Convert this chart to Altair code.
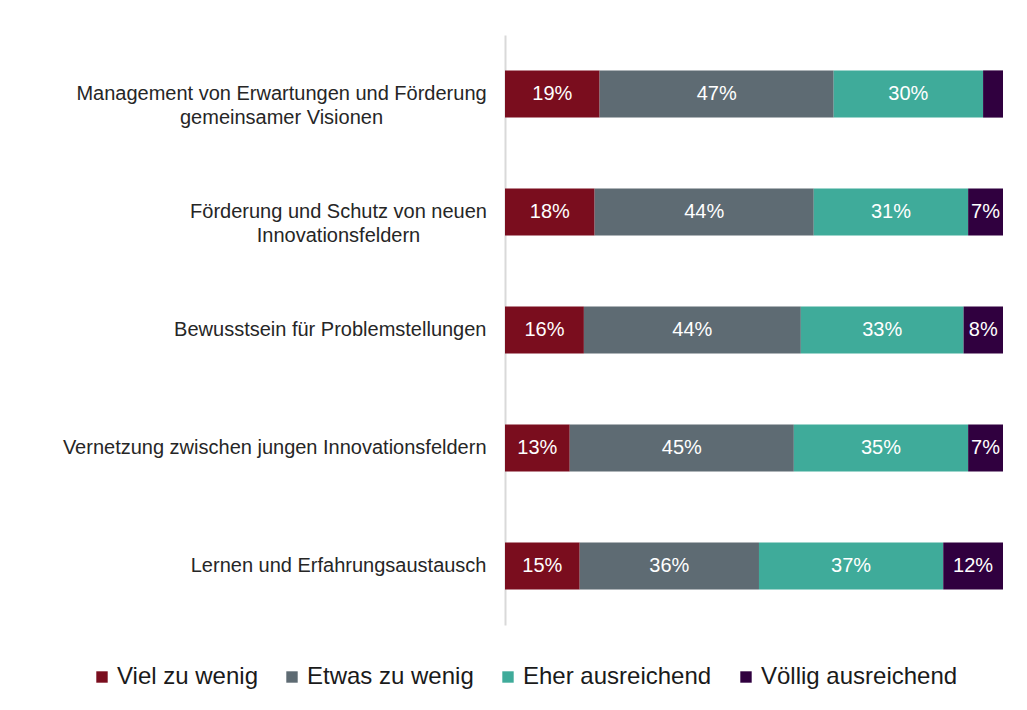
import altair as alt
import pandas as pd

categories = [
    "Management von Erwartungen und Förderung|gemeinsamer Visionen",
    "Förderung und Schutz von neuen|Innovationsfeldern",
    "Bewusstsein für Problemstellungen",
    "Vernetzung zwischen jungen Innovationsfeldern",
    "Lernen und Erfahrungsaustausch",
]
series = ["Viel zu wenig", "Etwas zu wenig", "Eher ausreichend", "Völlig ausreichend"]
viel_zu_wenig = [19, 18, 16, 13, 15]
etwas_zu_wenig = [47, 44, 44, 45, 36]
eher_ausreichend = [30, 31, 33, 35, 37]
voellig_ausreichend = [4, 7, 8, 7, 12]
colors = ["#7a0d1e", "#5e6b73", "#3fab9a", "#30003f"]

rows = []
for s_i, (s, vals) in enumerate(zip(series, [viel_zu_wenig, etwas_zu_wenig, eher_ausreichend, voellig_ausreichend])):
    for c, v in zip(categories, vals):
        rows.append({"cat": c, "series": s, "order": s_i, "value": v})
df = pd.DataFrame(rows)

FONT = "Liberation Sans"

label_align = {
    "condition": {"test": "indexof(datum.value, '|') >= 0", "value": "center"},
    "value": "right",
}
label_padding = {
    "condition": [
        {"test": "indexof(datum.value, 'Management') == 0", "value": 224},
        {"test": "indexof(datum.value, 'Förderung und') == 0", "value": 167},
    ],
    "value": 19,
}

base = alt.Chart(df).transform_stack(
    stack="value", groupby=["cat"], as_=["v0", "v1"], sort=[alt.SortField("order")]
).transform_joinaggregate(
    total="sum(value)", groupby=["cat"]
).transform_calculate(
    p0="datum.v0 / datum.total",
    p1="datum.v1 / datum.total",
    mid="(datum.v0 + datum.v1) / 2 / datum.total",
    lbl="datum.value + '%'",
)

y_enc = alt.Y(
    "cat:N",
    sort=categories,
    title=None,
    scale=alt.Scale(paddingInner=0.6, paddingOuter=0.3),
    axis=alt.Axis(
        labelExpr="split(datum.label, '|')",
        labelAlign=label_align,
        labelPadding=label_padding,
        labelBaseline="middle",
        labelLineHeight=24,
        labelFontSize=20,
        labelFont=FONT,
        labelColor="#262626",
        labelLimit=800,
        ticks=False,
        tickSize=0,
        domainColor="#d9d9d9",
        domainWidth=2,
    ),
)

bars = base.mark_bar().encode(
    y=y_enc,
    x=alt.X("p0:Q", scale=alt.Scale(domain=[0, 1]), axis=None),
    x2="p1:Q",
    color=alt.Color(
        "series:N",
        scale=alt.Scale(domain=series, range=colors),
        sort=series,
        title=None,
        legend=alt.Legend(
            orient="none",
            direction="horizontal",
            legendX=-415,
            legendY=630,
            symbolType="square",
            symbolSize=130,
            symbolStrokeWidth=0,
            labelFontSize=24,
            labelFont=FONT,
            labelColor="#1a1a1a",
            labelLimit=400,
            labelOffset=3,
            columnPadding=22,
            padding=0,
        ),
    ),
    order=alt.Order("order:Q"),
)

texts = base.transform_filter("datum.value >= 5").mark_text(
    color="white", fontSize=20, font=FONT, align="center", baseline="middle"
).encode(
    y=alt.Y("cat:N", sort=categories),
    x=alt.X("mid:Q", scale=alt.Scale(domain=[0, 1])),
    text="lbl:N",
)

chart = alt.layer(bars, texts).properties(
    width=498,
    height=590,
    padding={"left": 54, "top": 27, "right": 10, "bottom": 10},
    background="white",
).configure_view(stroke=None)

chart.save("out.html", embed_options={"renderer": "svg", "actions": False})
